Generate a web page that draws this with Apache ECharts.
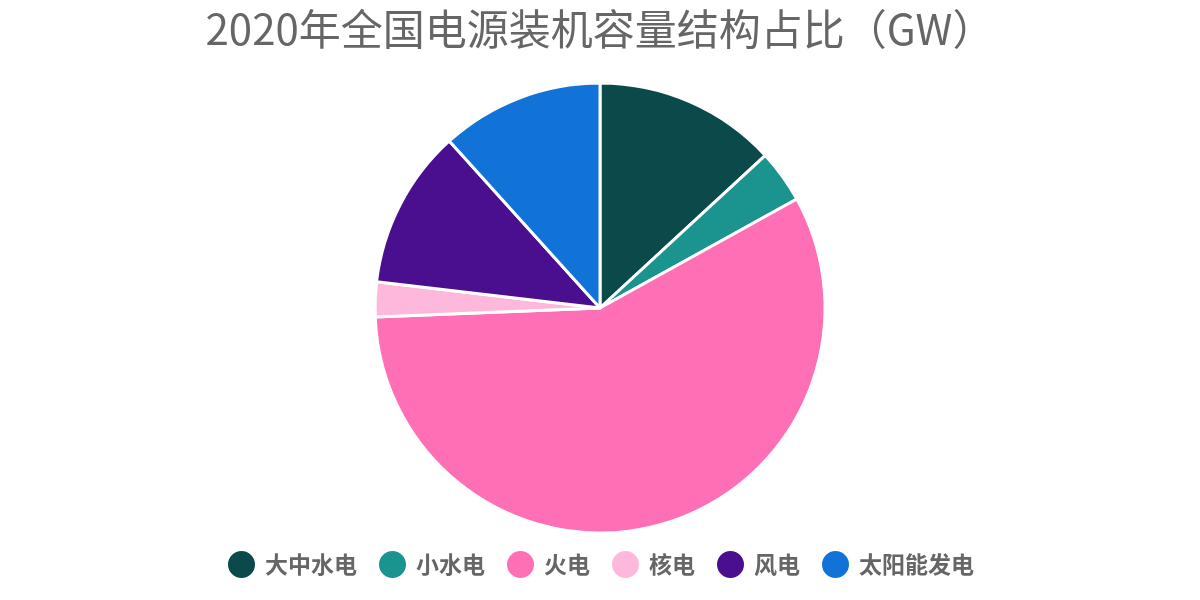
<!DOCTYPE html>
<html>
<head>
<meta charset="utf-8">
<title>2020年全国电源装机容量结构占比</title>
<script src="https://cdn.jsdelivr.net/npm/echarts@6/dist/echarts.min.js"></script>
<style>
  html, body { margin: 0; padding: 0; background: #fff; }
  #charts { width: 1200px; height: 600px; }
</style>
</head>
<body>
<div id="charts"></div>
<script>
// 数据（GW），按图中扇区角度估读
var categories = ['大中水电', '小水电', '火电', '核电', '风电', '太阳能发电'];
var capacity = [289, 84, 1263, 55, 252, 257];
var colors = ['#0b4a4a', '#1b9490', '#fe6fb6', '#feb8dc', '#4a0f8f', '#1172d8'];

var pieData = categories.map(function (name, i) {
    return { name: name, value: capacity[i] };
});

var myChart = echarts.init(document.getElementById('charts'));
myChart.setOption({
    color: colors,
    title: {
        text: '2020年全国电源装机容量结构占比（GW）',
        left: 'center',
        top: 3,
        textStyle: {
            fontFamily: 'Noto Sans CJK SC',
            fontSize: 42,
            fontWeight: 'normal',
            color: '#666'
        }
    },
    legend: {
        data: categories,
        bottom: 15,
        left: 'center',
        icon: 'circle',
        itemWidth: 29,
        itemHeight: 29,
        itemGap: 20,
        textStyle: {
            fontFamily: 'Noto Sans CJK SC',
            fontSize: 23,
            fontWeight: 'bold',
            color: '#666',
            padding: [0, 0, 0, 4]
        }
    },
    series: [{
        name: '装机容量',
        type: 'pie',
        center: [600, 308],
        radius: 225,
        startAngle: 90,
        clockwise: true,
        label: { show: false },
        labelLine: { show: false },
        itemStyle: {
            borderColor: '#fff',
            borderWidth: 3
        },
        data: pieData
    }]
});
</script>
</body>
</html>
